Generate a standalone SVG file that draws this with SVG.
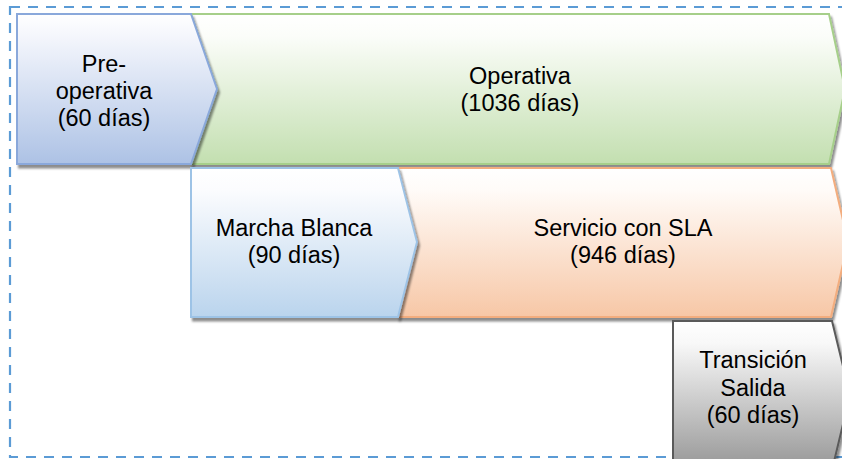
<svg xmlns="http://www.w3.org/2000/svg" width="842" height="459" viewBox="0 0 842 459">
  <defs>
    <linearGradient id="gBlue" x1="0" y1="0" x2="0" y2="1">
      <stop offset="0" stop-color="#ffffff"/>
      <stop offset="0.15" stop-color="#f4f6fc"/>
      <stop offset="1" stop-color="#adc2e5"/>
    </linearGradient>
    <linearGradient id="gGreen" x1="0" y1="0" x2="0" y2="1">
      <stop offset="0" stop-color="#ffffff"/>
      <stop offset="0.15" stop-color="#fbfdf9"/>
      <stop offset="1" stop-color="#c3dfb0"/>
    </linearGradient>
    <linearGradient id="gLBlue" x1="0" y1="0" x2="0" y2="1">
      <stop offset="0" stop-color="#ffffff"/>
      <stop offset="0.15" stop-color="#fbfcfe"/>
      <stop offset="1" stop-color="#bad4ed"/>
    </linearGradient>
    <linearGradient id="gOrange" x1="0" y1="0" x2="0" y2="1">
      <stop offset="0" stop-color="#ffffff"/>
      <stop offset="0.15" stop-color="#fffbf8"/>
      <stop offset="1" stop-color="#f7c7a6"/>
    </linearGradient>
    <linearGradient id="gGray" x1="0" y1="0" x2="0" y2="1">
      <stop offset="0" stop-color="#ffffff"/>
      <stop offset="0.15" stop-color="#f8f8f8"/>
      <stop offset="1" stop-color="#969696"/>
    </linearGradient>
    <filter id="shadow" x="-5%" y="-5%" width="115%" height="120%">
      <feDropShadow dx="2" dy="3.5" stdDeviation="0.8" flood-color="#000" flood-opacity="0.45"/>
    </filter>
  </defs>
  <style>
    .shape { stroke-width: 2; stroke-linejoin: miter; filter: url(#shadow); }
    .lbl { font-family: "Liberation Sans", Arial, sans-serif; font-size: 23.5px; fill: #000; text-anchor: middle; }
    .frame { fill: none; stroke: #5b9bd5; stroke-width: 2.2; stroke-dasharray: 10 8; }
  </style>

  <rect class="frame" x="10" y="7" width="850" height="450"/>

  <g id="operativa">
    <polygon class="shape" points="191,14 829,14 845,89 829,164 191,164 217,89" fill="url(#gGreen)" stroke="#a6cf8a"/>
    <text class="lbl" x="520" y="84">Operativa</text>
    <text class="lbl" x="520" y="111">(1036 días)</text>
  </g>

  <g id="preoperativa">
    <polygon class="shape" points="17,14 191,14 217,89 191,164 17,164" fill="url(#gBlue)" stroke="#8aa8db"/>
    <text class="lbl" x="104" y="72">Pre-</text>
    <text class="lbl" x="104" y="99">operativa</text>
    <text class="lbl" x="104" y="126">(60 días)</text>
  </g>

  <g id="servicio">
    <polygon class="shape" points="398,168 831,168 848,242 831,317 398,317 417,242" fill="url(#gOrange)" stroke="#f3ad7e"/>
    <text class="lbl" x="623" y="236">Servicio con SLA</text>
    <text class="lbl" x="623" y="263">(946 días)</text>
  </g>

  <g id="marcha">
    <polygon class="shape" points="191,168 398,168 417,242 398,317 191,317" fill="url(#gLBlue)" stroke="#9dc3e6"/>
    <text class="lbl" x="294" y="236">Marcha Blanca</text>
    <text class="lbl" x="294" y="263">(90 días)</text>
  </g>

  <g id="transicion">
    <polygon class="shape" points="673,321 832,321 850,395 832,470 673,470" fill="url(#gGray)" stroke="#5a5a5a"/>
    <text class="lbl" x="753" y="368">Transición</text>
    <text class="lbl" x="753" y="396">Salida</text>
    <text class="lbl" x="753" y="423">(60 días)</text>
  </g>

  <g id="connectors"></g>
</svg>
